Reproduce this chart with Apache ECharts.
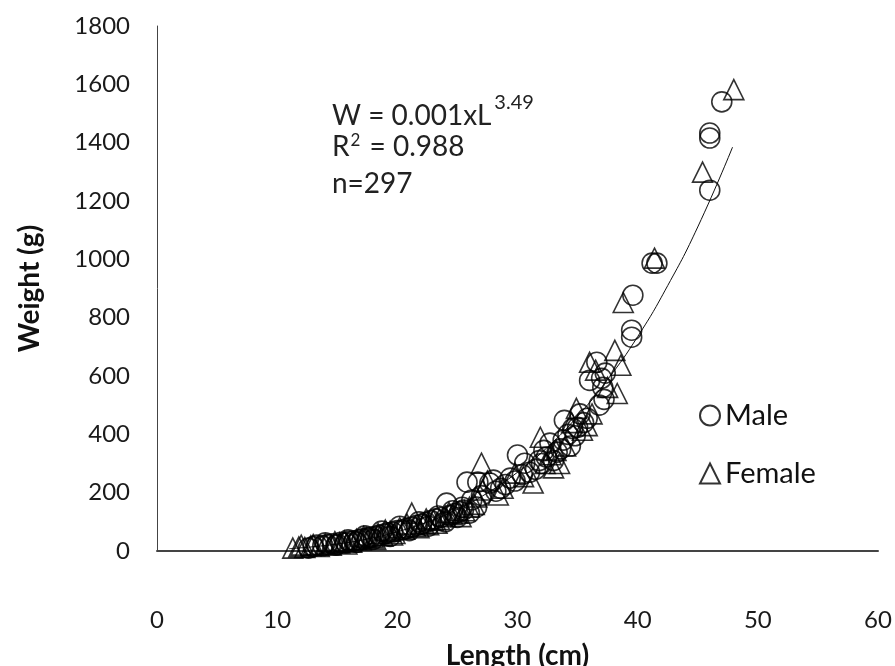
<!DOCTYPE html>
<html>
<head>
<meta charset="utf-8">
<script src="https://cdn.jsdelivr.net/npm/echarts@6/dist/echarts.min.js"></script>
<style>
  html, body { margin: 0; padding: 0; background: #fff; }
  #chart { width: 895px; height: 666px; }
</style>
</head>
<body>
<div id="chart"></div>
<script>
// ---- Data ----
const xTicks = [0, 10, 20, 30, 40, 50, 60];
const yTicks = [0, 200, 400, 600, 800, 1000, 1200, 1400, 1600, 1800];

const maleLength = [
  47.0, 46.0, 46.0, 46.0, 41.2, 41.6, 39.6, 39.5, 39.5,
  36.0, 36.6, 37.0, 37.3, 37.2, 36.8, 37.1, 35.8, 35.5, 35.0, 34.6, 33.9, 34.2, 33.6, 33.3, 33.0,
  32.7, 32.4, 32.0, 31.5, 31.0, 30.6, 30.4, 30.0, 29.8, 29.4, 29.0, 28.6, 28.2, 28.0, 27.7,
  27.0, 26.7, 26.6, 26.2, 25.8, 25.5,
  33.8, 34.4, 32.2, 35.2, 34.8, 31.8,
  13.0, 13.3, 13.8, 14.2, 14.6, 15.0, 15.3, 15.7, 16.0, 16.4, 16.8, 17.1, 17.5, 17.8,
  18.2, 18.5, 18.9, 19.2, 19.6, 20.0, 20.4, 20.8, 21.2, 21.6, 22.0, 22.4, 22.8, 23.2,
  23.6, 24.1, 24.4, 24.8, 25.2,
  12.6, 14.0, 14.9, 15.9, 16.6, 17.3, 18.0, 18.7, 19.4, 20.2, 21.0, 21.8, 22.6, 23.4,
  24.0, 24.6, 25.0, 25.4, 26.0
];
const maleWeight = [
  1540, 1433, 1416, 1237, 987, 987, 877, 757, 733,
  585, 647, 592, 610, 520, 500, 561, 455, 440, 424, 420, 448, 400, 350, 339, 310,
  370, 322, 300, 280, 270, 301, 262, 329, 240, 250, 228, 215, 205, 243, 233,
  190, 236, 151, 175, 236, 140,
  380, 360, 345, 470, 395, 310,
  15, 20, 18, 22, 25, 24, 30, 28, 33, 35, 38, 42, 44, 48,
  50, 55, 58, 62, 65, 70, 72, 78, 82, 88, 92, 98, 104, 110,
  115, 164, 122, 128, 135,
  10, 28, 20, 38, 30, 52, 40, 68, 50, 85, 70, 100, 85, 120,
  100, 138, 115, 150, 130
];

const femaleLength = [
  48.0, 45.4, 41.4, 38.8,
  38.1, 38.6, 38.3, 37.5, 36.0, 36.5, 34.9, 35.4, 34.0, 33.5, 33.0, 32.8, 31.9, 31.3,
  30.5, 29.8, 28.8, 28.4, 27.5, 27.1, 27.0, 26.6,
  33.2, 34.5, 35.8, 32.3, 36.2,
  11.3, 11.8, 12.3, 12.8, 13.5, 14.0, 14.5, 15.2, 15.6, 16.2, 16.6, 17.0, 17.4, 18.0,
  18.4, 18.8, 19.4, 19.8, 20.2, 20.6, 21.2, 21.5, 22.2, 22.6, 23.0, 23.5, 24.0, 24.6,
  25.0, 25.6, 26.0,
  12.0, 13.0, 14.8, 15.8, 17.2, 18.2, 19.0, 19.6, 20.8, 21.8, 22.4, 23.3, 24.3, 25.3, 26.4
];
const femaleWeight = [
  1582, 1299, 1004, 852,
  688, 637, 540, 561, 647, 620, 489, 414, 360, 300, 285, 330, 390, 233,
  255, 267, 215, 192, 240, 209, 301, 185,
  345, 440, 430, 300, 470,
  10, 14, 12, 18, 16, 24, 20, 28, 34, 30, 40, 38, 46, 45,
  60, 52, 68, 60, 80, 75, 130, 85, 95, 90, 105, 108, 118, 125,
  130, 138, 150,
  20, 22, 32, 24, 50, 40, 72, 55, 92, 80, 110, 95, 132, 118, 160
];

// fitted curve as drawn in the reference
const trendLength = [11, 13, 15, 17.5, 20, 22.5, 25, 27.5, 30, 32.5, 35, 37.5, 40, 42.5, 45, 47.9];
const trendWeight = [8, 14.6, 24, 41, 66, 99, 143, 199, 270, 356, 462, 588, 735, 910, 1111, 1385];

const zip = (a, b) => a.map((v, i) => [v, b[i]]);

const FONT = 'Lato, "Open Sans", sans-serif';
const chart = echarts.init(document.getElementById('chart'), null, { renderer: 'canvas' });

const option = {
  backgroundColor: '#ffffff',
  animation: false,
  grid: { left: 157, right: 17, top: 26, bottom: 115, containLabel: false, outerBoundsMode: 'none' },
  xAxis: {
    type: 'value', min: xTicks[0], max: xTicks[xTicks.length - 1], interval: 10,
    name: 'Length (cm)', nameLocation: 'middle', nameGap: 91,
    nameTextStyle: { fontFamily: FONT, fontSize: 28, fontWeight: 'bold', color: '#111' },
    axisLine: { lineStyle: { color: '#444', width: 2 } },
    axisTick: { show: false },
    splitLine: { show: false },
    axisLabel: { margin: 57, fontFamily: FONT, fontSize: 24, color: '#1a1a1a', formatter: v => String(v) }
  },
  yAxis: {
    type: 'value', min: yTicks[0], max: yTicks[yTicks.length - 1], interval: 200,
    name: 'Weight (g)', nameLocation: 'middle', nameGap: 113, nameRotate: 90,
    nameTextStyle: { fontFamily: FONT, fontSize: 28, fontWeight: 'bold', color: '#111' },
    axisLine: { show: true, lineStyle: { color: '#444', width: 1 } },
    axisTick: { show: false },
    splitLine: { show: false },
    axisLabel: { margin: 27, fontFamily: FONT, fontSize: 24, color: '#1a1a1a', formatter: v => String(v) }
  },
  legend: {
    orient: 'vertical', left: 694, top: 396,
    data: ['Male', 'Female'],
    itemWidth: 20, itemHeight: 20, itemGap: 29,
    textStyle: { fontFamily: FONT, fontSize: 29, color: '#111', lineHeight: 28 }
  },
  graphic: [
    { type: 'text', left: 332, top: 93, style: {
        text: 'W = 0.001xL{a|3.49}', fontFamily: FONT, fontSize: 28, fill: '#222',
        rich: { a: { fontFamily: FONT, fontSize: 20, fill: '#222', padding: [0, 0, 26, 3] } } } },
    { type: 'text', left: 332, top: 132, style: {
        text: 'R{b|2} = 0.988', fontFamily: FONT, fontSize: 28, fill: '#222',
        rich: { b: { fontFamily: FONT, fontSize: 17, fill: '#222', padding: [0, 2, 12, 1] } } } },
    { type: 'text', left: 332, top: 170, style: {
        text: 'n=297', fontFamily: FONT, fontSize: 28, fill: '#222' } }
  ],
  series: [
    {
      name: 'trend', type: 'line', data: zip(trendLength, trendWeight),
      smooth: true, showSymbol: false, symbol: 'none',
      lineStyle: { color: '#111', width: 1 }, z: 1, silent: true
    },
    {
      name: 'Male', type: 'scatter', symbol: 'circle', symbolSize: 20,
      data: zip(maleLength, maleWeight),
      itemStyle: { color: 'rgba(255,255,255,0)', borderColor: '#000', borderWidth: 1.6 }, z: 2
    },
    {
      name: 'Female', type: 'scatter', symbol: 'triangle', symbolSize: 20,
      data: zip(femaleLength, femaleWeight),
      itemStyle: { color: 'rgba(255,255,255,0)', borderColor: '#000', borderWidth: 1.6 }, z: 2
    }
  ]
};
chart.setOption(option);
</script>
</body>
</html>
